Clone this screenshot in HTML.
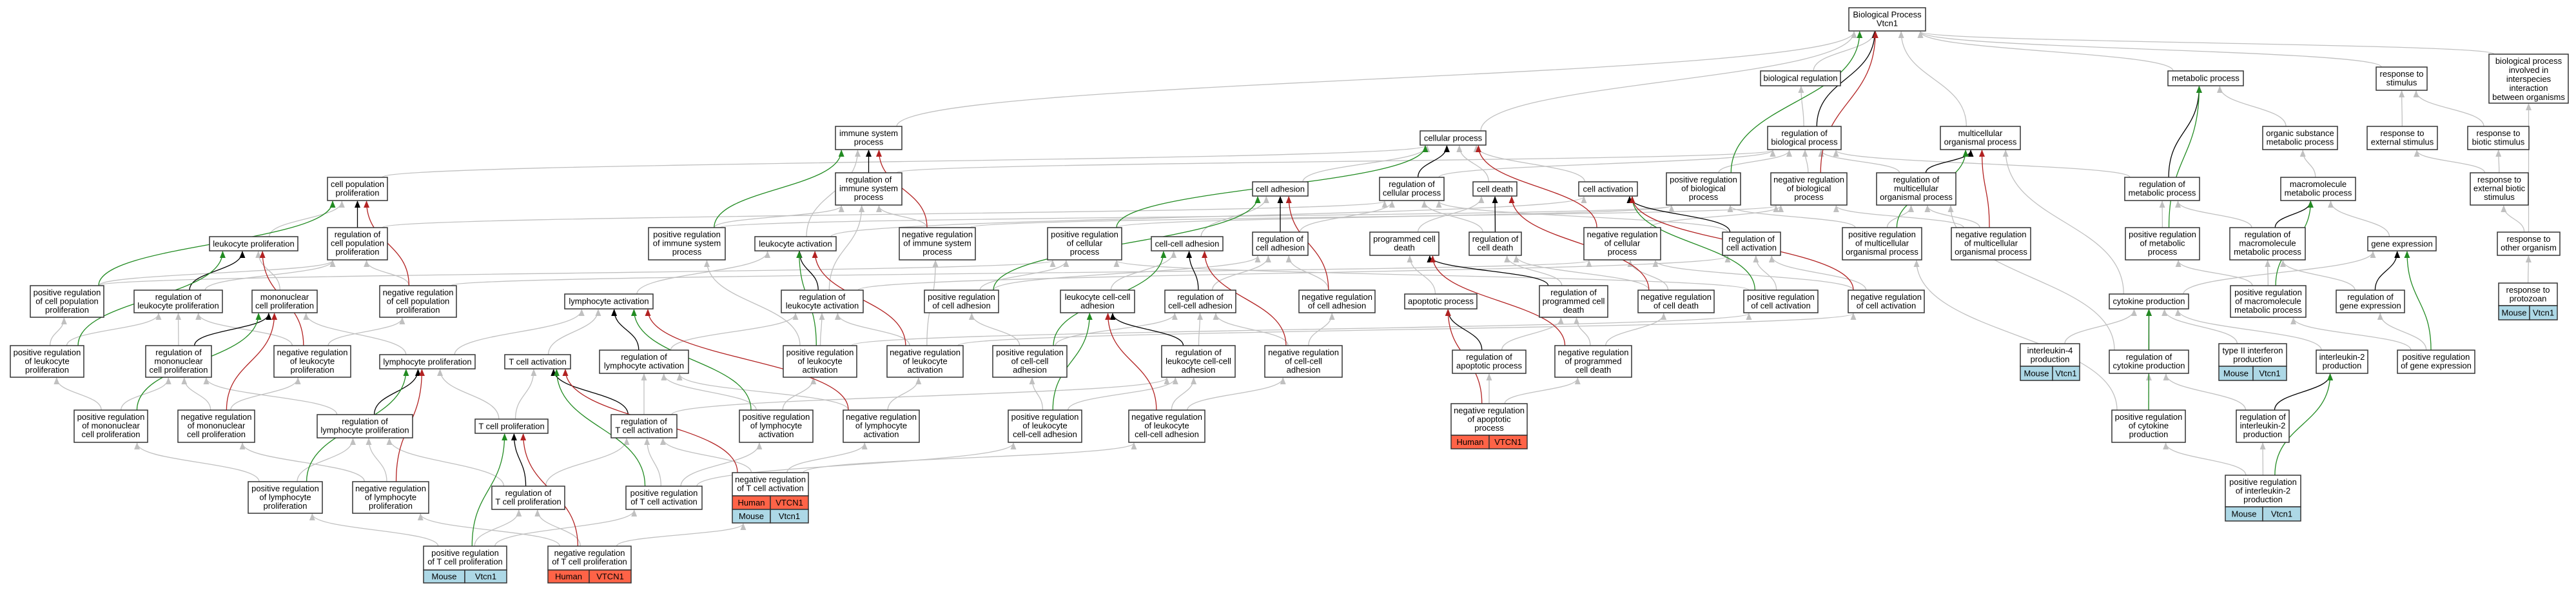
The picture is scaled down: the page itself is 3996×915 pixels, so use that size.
<!DOCTYPE html>
<html><head><meta charset="utf-8"><style>
html,body{margin:0;padding:0;background:#fff;}
svg{display:block;}
text{font-family:"Liberation Sans",Arial,sans-serif;font-size:13px;fill:#000;text-anchor:middle;}
rect{fill:#fff;stroke:#333;stroke-width:1.5;}
rect.m{fill:#add8e6;}
rect.h{fill:#ff6347;}
path.e{fill:none;stroke-width:1.3;}
</style></head><body>
<svg id="s" width="3996" height="915" viewBox="0 0 3996 915" xmlns="http://www.w3.org/2000/svg">
<defs>
<marker id="agray" markerWidth="11" markerHeight="9" refX="10" refY="4.5" orient="auto" markerUnits="userSpaceOnUse"><path d="M0,0 L11,4.5 L0,9 z" fill="#c0c0c0"/></marker>
<marker id="ablack" markerWidth="11" markerHeight="9" refX="10" refY="4.5" orient="auto" markerUnits="userSpaceOnUse"><path d="M0,0 L11,4.5 L0,9 z" fill="#000"/></marker>
<marker id="agreen" markerWidth="11" markerHeight="9" refX="10" refY="4.5" orient="auto" markerUnits="userSpaceOnUse"><path d="M0,0 L11,4.5 L0,9 z" fill="#228b22"/></marker>
<marker id="ared" markerWidth="11" markerHeight="9" refX="10" refY="4.5" orient="auto" markerUnits="userSpaceOnUse"><path d="M0,0 L11,4.5 L0,9 z" fill="#b22222"/></marker>
</defs>
<g id="edges"></g>
<g id="nodes">
<g id="cpp"><rect x="508" y="275" width="93" height="36"/><text x="554.5" y="290"><tspan x="554.5">cell population</tspan><tspan x="554.5" dy="13.5">proliferation</tspan></text></g>
<g id="leukProl"><rect x="325" y="367" width="137" height="22"/><text x="393.5" y="382.5">leukocyte proliferation</text></g>
<g id="regCPP"><rect x="508" y="353" width="93" height="50"/><text x="554.5" y="368"><tspan x="554.5">regulation of</tspan><tspan x="554.5" dy="13.5">cell population</tspan><tspan x="554.5" dy="13.5">proliferation</tspan></text></g>
<g id="posCPP"><rect x="47" y="443" width="114" height="49"/><text x="104" y="458"><tspan x="104">positive regulation</tspan><tspan x="104" dy="13.5">of cell population</tspan><tspan x="104" dy="13.5">proliferation</tspan></text></g>
<g id="regLeukProl"><rect x="208" y="450" width="137" height="35"/><text x="276.5" y="465"><tspan x="276.5">regulation of</tspan><tspan x="276.5" dy="13.5">leukocyte proliferation</tspan></text></g>
<g id="monoProl"><rect x="391" y="450" width="101" height="35"/><text x="441.5" y="465"><tspan x="441.5">mononuclear</tspan><tspan x="441.5" dy="13.5">cell proliferation</tspan></text></g>
<g id="negCPP"><rect x="589" y="443" width="119" height="49"/><text x="648.5" y="458"><tspan x="648.5">negative regulation</tspan><tspan x="648.5" dy="13.5">of cell population</tspan><tspan x="648.5" dy="13.5">proliferation</tspan></text></g>
<g id="posLeukProl"><rect x="16" y="536" width="114" height="49"/><text x="73" y="551"><tspan x="73">positive regulation</tspan><tspan x="73" dy="13.5">of leukocyte</tspan><tspan x="73" dy="13.5">proliferation</tspan></text></g>
<g id="regMono"><rect x="226" y="536" width="102" height="49"/><text x="277" y="551"><tspan x="277">regulation of</tspan><tspan x="277" dy="13.5">mononuclear</tspan><tspan x="277" dy="13.5">cell proliferation</tspan></text></g>
<g id="negLeukProl"><rect x="425" y="536" width="119" height="49"/><text x="484.5" y="551"><tspan x="484.5">negative regulation</tspan><tspan x="484.5" dy="13.5">of leukocyte</tspan><tspan x="484.5" dy="13.5">proliferation</tspan></text></g>
<g id="lymphProl"><rect x="589" y="550" width="148" height="22"/><text x="663" y="565.5">lymphocyte proliferation</text></g>
<g id="tAct"><rect x="783" y="550" width="102" height="22"/><text x="834" y="565.5">T cell activation</text></g>
<g id="lymphAct"><rect x="876" y="456" width="137" height="23"/><text x="944.5" y="471.5">lymphocyte activation</text></g>
<g id="posMono"><rect x="115" y="636" width="114" height="50"/><text x="172" y="651"><tspan x="172">positive regulation</tspan><tspan x="172" dy="13.5">of mononuclear</tspan><tspan x="172" dy="13.5">cell proliferation</tspan></text></g>
<g id="negMono"><rect x="276" y="636" width="119" height="50"/><text x="335.5" y="651"><tspan x="335.5">negative regulation</tspan><tspan x="335.5" dy="13.5">of mononuclear</tspan><tspan x="335.5" dy="13.5">cell proliferation</tspan></text></g>
<g id="regLymphProl"><rect x="492" y="643" width="148" height="36"/><text x="566" y="658"><tspan x="566">regulation of</tspan><tspan x="566" dy="13.5">lymphocyte proliferation</tspan></text></g>
<g id="tProl"><rect x="737" y="650" width="113" height="22"/><text x="793.5" y="665.5">T cell proliferation</text></g>
<g id="regLymphAct"><rect x="930" y="543" width="138" height="36"/><text x="999" y="558"><tspan x="999">regulation of</tspan><tspan x="999" dy="13.5">lymphocyte activation</tspan></text></g>
<g id="regTact"><rect x="948" y="643" width="102" height="36"/><text x="999" y="658"><tspan x="999">regulation of</tspan><tspan x="999" dy="13.5">T cell activation</tspan></text></g>
<g id="posLymphProl"><rect x="385" y="747" width="115" height="49"/><text x="442.5" y="762"><tspan x="442.5">positive regulation</tspan><tspan x="442.5" dy="13.5">of lymphocyte</tspan><tspan x="442.5" dy="13.5">proliferation</tspan></text></g>
<g id="negLymphProl"><rect x="547" y="747" width="118" height="49"/><text x="606" y="762"><tspan x="606">negative regulation</tspan><tspan x="606" dy="13.5">of lymphocyte</tspan><tspan x="606" dy="13.5">proliferation</tspan></text></g>
<g id="regTprol"><rect x="763" y="754" width="113" height="36"/><text x="819.5" y="769"><tspan x="819.5">regulation of</tspan><tspan x="819.5" dy="13.5">T cell proliferation</tspan></text></g>
<g id="posTact"><rect x="971" y="754" width="118" height="36"/><text x="1030" y="769"><tspan x="1030">positive regulation</tspan><tspan x="1030" dy="13.5">of T cell activation</tspan></text></g>
<g id="posTprol"><rect x="657" y="847" width="129" height="37"/><text x="721.5" y="862"><tspan x="721.5">positive regulation</tspan><tspan x="721.5" dy="13.5">of T cell proliferation</tspan></text>
<rect class="m" x="657" y="884" width="64" height="20"/><rect class="m" x="721" y="884" width="65" height="20"/><text x="689" y="898.5">Mouse</text><text x="753.5" y="898.5">Vtcn1</text></g>
<g id="negTprol"><rect x="850" y="847" width="129" height="37"/><text x="914.5" y="862"><tspan x="914.5">negative regulation</tspan><tspan x="914.5" dy="13.5">of T cell proliferation</tspan></text>
<rect class="h" x="850" y="884" width="64" height="20"/><rect class="h" x="914" y="884" width="65" height="20"/><text x="882" y="898.5">Human</text><text x="946.5" y="898.5">VTCN1</text></g>
<g id="isp"><rect x="1296" y="196" width="103" height="36"/><text x="1347.5" y="211"><tspan x="1347.5">immune system</tspan><tspan x="1347.5" dy="13.5">process</tspan></text></g>
<g id="regIsp"><rect x="1296" y="268" width="103" height="50"/><text x="1347.5" y="283"><tspan x="1347.5">regulation of</tspan><tspan x="1347.5" dy="13.5">immune system</tspan><tspan x="1347.5" dy="13.5">process</tspan></text></g>
<g id="posIsp"><rect x="1006" y="353" width="119" height="50"/><text x="1065.5" y="368"><tspan x="1065.5">positive regulation</tspan><tspan x="1065.5" dy="13.5">of immune system</tspan><tspan x="1065.5" dy="13.5">process</tspan></text></g>
<g id="leukAct"><rect x="1171" y="367" width="126" height="22"/><text x="1234" y="382.5">leukocyte activation</text></g>
<g id="negIsp"><rect x="1395" y="353" width="118" height="50"/><text x="1454" y="368"><tspan x="1454">negative regulation</tspan><tspan x="1454" dy="13.5">of immune system</tspan><tspan x="1454" dy="13.5">process</tspan></text></g>
<g id="posCellProc"><rect x="1625" y="353" width="115" height="50"/><text x="1682.5" y="368"><tspan x="1682.5">positive regulation</tspan><tspan x="1682.5" dy="13.5">of cellular</tspan><tspan x="1682.5" dy="13.5">process</tspan></text></g>
<g id="cellAdh"><rect x="1943" y="282" width="86" height="22"/><text x="1986" y="297.5">cell adhesion</text></g>
<g id="ccAdh"><rect x="1786" y="367" width="111" height="22"/><text x="1841.5" y="382.5">cell-cell adhesion</text></g>
<g id="regCellAdh"><rect x="1943" y="360" width="86" height="36"/><text x="1986" y="375"><tspan x="1986">regulation of</tspan><tspan x="1986" dy="13.5">cell adhesion</tspan></text></g>
<g id="regLeukAct"><rect x="1212" y="450" width="127" height="35"/><text x="1275.5" y="465"><tspan x="1275.5">regulation of</tspan><tspan x="1275.5" dy="13.5">leukocyte activation</tspan></text></g>
<g id="posCellAdh"><rect x="1434" y="450" width="115" height="35"/><text x="1491.5" y="465"><tspan x="1491.5">positive regulation</tspan><tspan x="1491.5" dy="13.5">of cell adhesion</tspan></text></g>
<g id="leukCC"><rect x="1645" y="450" width="115" height="35"/><text x="1702.5" y="465"><tspan x="1702.5">leukocyte cell-cell</tspan><tspan x="1702.5" dy="13.5">adhesion</tspan></text></g>
<g id="regCC"><rect x="1807" y="450" width="110" height="35"/><text x="1862" y="465"><tspan x="1862">regulation of</tspan><tspan x="1862" dy="13.5">cell-cell adhesion</tspan></text></g>
<g id="posLeukAct"><rect x="1215" y="536" width="114" height="49"/><text x="1272" y="551"><tspan x="1272">positive regulation</tspan><tspan x="1272" dy="13.5">of leukocyte</tspan><tspan x="1272" dy="13.5">activation</tspan></text></g>
<g id="negLeukAct"><rect x="1376" y="536" width="118" height="49"/><text x="1435" y="551"><tspan x="1435">negative regulation</tspan><tspan x="1435" dy="13.5">of leukocyte</tspan><tspan x="1435" dy="13.5">activation</tspan></text></g>
<g id="posCC"><rect x="1540" y="536" width="115" height="49"/><text x="1597.5" y="551"><tspan x="1597.5">positive regulation</tspan><tspan x="1597.5" dy="13.5">of cell-cell</tspan><tspan x="1597.5" dy="13.5">adhesion</tspan></text></g>
<g id="regLeukCC"><rect x="1802" y="536" width="114" height="49"/><text x="1859" y="551"><tspan x="1859">regulation of</tspan><tspan x="1859" dy="13.5">leukocyte cell-cell</tspan><tspan x="1859" dy="13.5">adhesion</tspan></text></g>
<g id="negCC"><rect x="1962" y="536" width="120" height="49"/><text x="2022" y="551"><tspan x="2022">negative regulation</tspan><tspan x="2022" dy="13.5">of cell-cell</tspan><tspan x="2022" dy="13.5">adhesion</tspan></text></g>
<g id="posLymphAct"><rect x="1147" y="636" width="114" height="50"/><text x="1204" y="651"><tspan x="1204">positive regulation</tspan><tspan x="1204" dy="13.5">of lymphocyte</tspan><tspan x="1204" dy="13.5">activation</tspan></text></g>
<g id="negLymphAct"><rect x="1308" y="636" width="118" height="50"/><text x="1367" y="651"><tspan x="1367">negative regulation</tspan><tspan x="1367" dy="13.5">of lymphocyte</tspan><tspan x="1367" dy="13.5">activation</tspan></text></g>
<g id="posLeukCC"><rect x="1564" y="636" width="114" height="50"/><text x="1621" y="651"><tspan x="1621">positive regulation</tspan><tspan x="1621" dy="13.5">of leukocyte</tspan><tspan x="1621" dy="13.5">cell-cell adhesion</tspan></text></g>
<g id="negLeukCC"><rect x="1751" y="636" width="118" height="50"/><text x="1810" y="651"><tspan x="1810">negative regulation</tspan><tspan x="1810" dy="13.5">of leukocyte</tspan><tspan x="1810" dy="13.5">cell-cell adhesion</tspan></text></g>
<g id="negTact"><rect x="1136" y="733" width="118" height="36"/><text x="1195" y="748"><tspan x="1195">negative regulation</tspan><tspan x="1195" dy="13.5">of T cell activation</tspan></text>
<rect class="h" x="1136" y="769" width="59" height="21"/><rect class="h" x="1195" y="769" width="59" height="21"/><text x="1165.5" y="784">Human</text><text x="1224.5" y="784">VTCN1</text>
<rect class="m" x="1136" y="790" width="59" height="21"/><rect class="m" x="1195" y="790" width="59" height="21"/><text x="1165.5" y="805">Mouse</text><text x="1224.5" y="805">Vtcn1</text></g>
<g id="bp"><rect x="2868" y="12" width="119" height="36"/><text x="2927.5" y="27"><tspan x="2927.5">Biological Process</tspan><tspan x="2927.5" dy="13.5">Vtcn1</tspan></text></g>
<g id="bioReg"><rect x="2731" y="110" width="124" height="23"/><text x="2793" y="125.5">biological regulation</text></g>
<g id="cellProc"><rect x="2203" y="203" width="102" height="22"/><text x="2254" y="218.5">cellular process</text></g>
<g id="regBio"><rect x="2742" y="196" width="114" height="36"/><text x="2799" y="211"><tspan x="2799">regulation of</tspan><tspan x="2799" dy="13.5">biological process</tspan></text></g>
<g id="regCellProc"><rect x="2140" y="275" width="100" height="36"/><text x="2190" y="290"><tspan x="2190">regulation of</tspan><tspan x="2190" dy="13.5">cellular process</tspan></text></g>
<g id="cellDeath"><rect x="2285" y="282" width="68" height="22"/><text x="2319" y="297.5">cell death</text></g>
<g id="cellAct"><rect x="2449" y="282" width="91" height="22"/><text x="2494.5" y="297.5">cell activation</text></g>
<g id="posBio"><rect x="2585" y="268" width="115" height="50"/><text x="2642.5" y="283"><tspan x="2642.5">positive regulation</tspan><tspan x="2642.5" dy="13.5">of biological</tspan><tspan x="2642.5" dy="13.5">process</tspan></text></g>
<g id="negBio"><rect x="2747" y="268" width="118" height="50"/><text x="2806" y="283"><tspan x="2806">negative regulation</tspan><tspan x="2806" dy="13.5">of biological</tspan><tspan x="2806" dy="13.5">process</tspan></text></g>
<g id="regMulti"><rect x="2911" y="268" width="123" height="50"/><text x="2972.5" y="283"><tspan x="2972.5">regulation of</tspan><tspan x="2972.5" dy="13.5">multicellular</tspan><tspan x="2972.5" dy="13.5">organismal process</tspan></text></g>
<g id="pcd"><rect x="2125" y="360" width="107" height="36"/><text x="2178.5" y="375"><tspan x="2178.5">programmed cell</tspan><tspan x="2178.5" dy="13.5">death</tspan></text></g>
<g id="regCellDeath"><rect x="2279" y="360" width="81" height="36"/><text x="2319.5" y="375"><tspan x="2319.5">regulation of</tspan><tspan x="2319.5" dy="13.5">cell death</tspan></text></g>
<g id="negCellProc"><rect x="2457" y="353" width="119" height="50"/><text x="2516.5" y="368"><tspan x="2516.5">negative regulation</tspan><tspan x="2516.5" dy="13.5">of cellular</tspan><tspan x="2516.5" dy="13.5">process</tspan></text></g>
<g id="regCellAct"><rect x="2672" y="360" width="90" height="36"/><text x="2717" y="375"><tspan x="2717">regulation of</tspan><tspan x="2717" dy="13.5">cell activation</tspan></text></g>
<g id="posMulti"><rect x="2858" y="353" width="123" height="50"/><text x="2919.5" y="368"><tspan x="2919.5">positive regulation</tspan><tspan x="2919.5" dy="13.5">of multicellular</tspan><tspan x="2919.5" dy="13.5">organismal process</tspan></text></g>
<g id="negCellAdh"><rect x="2015" y="450" width="118" height="35"/><text x="2074" y="465"><tspan x="2074">negative regulation</tspan><tspan x="2074" dy="13.5">of cell adhesion</tspan></text></g>
<g id="apop"><rect x="2179" y="456" width="112" height="23"/><text x="2235" y="471.5">apoptotic process</text></g>
<g id="regPcd"><rect x="2388" y="443" width="106" height="49"/><text x="2441" y="458"><tspan x="2441">regulation of</tspan><tspan x="2441" dy="13.5">programmed cell</tspan><tspan x="2441" dy="13.5">death</tspan></text></g>
<g id="negCellDeath"><rect x="2541" y="450" width="118" height="35"/><text x="2600" y="465"><tspan x="2600">negative regulation</tspan><tspan x="2600" dy="13.5">of cell death</tspan></text></g>
<g id="posCellAct"><rect x="2705" y="450" width="115" height="35"/><text x="2762.5" y="465"><tspan x="2762.5">positive regulation</tspan><tspan x="2762.5" dy="13.5">of cell activation</tspan></text></g>
<g id="negCellAct"><rect x="2867" y="450" width="118" height="35"/><text x="2926" y="465"><tspan x="2926">negative regulation</tspan><tspan x="2926" dy="13.5">of cell activation</tspan></text></g>
<g id="regApop"><rect x="2253" y="543" width="114" height="36"/><text x="2310" y="558"><tspan x="2310">regulation of</tspan><tspan x="2310" dy="13.5">apoptotic process</tspan></text></g>
<g id="negPcd"><rect x="2412" y="536" width="119" height="49"/><text x="2471.5" y="551"><tspan x="2471.5">negative regulation</tspan><tspan x="2471.5" dy="13.5">of programmed</tspan><tspan x="2471.5" dy="13.5">cell death</tspan></text></g>
<g id="negApop"><rect x="2251" y="626" width="118" height="49"/><text x="2310" y="641"><tspan x="2310">negative regulation</tspan><tspan x="2310" dy="13.5">of apoptotic</tspan><tspan x="2310" dy="13.5">process</tspan></text>
<rect class="h" x="2251" y="675" width="59" height="21"/><rect class="h" x="2310" y="675" width="59" height="21"/><text x="2280.5" y="690">Human</text><text x="2339.5" y="690">VTCN1</text></g>
<g id="metab"><rect x="3363" y="110" width="117" height="23"/><text x="3421.5" y="125.5">metabolic process</text></g>
<g id="stim"><rect x="3686" y="104" width="79" height="36"/><text x="3725.5" y="119"><tspan x="3725.5">response to</tspan><tspan x="3725.5" dy="13.5">stimulus</tspan></text></g>
<g id="inter"><rect x="3861" y="84" width="123" height="76"/><text x="3922.5" y="99"><tspan x="3922.5">biological process</tspan><tspan x="3922.5" dy="14">involved in</tspan><tspan x="3922.5" dy="14">interspecies</tspan><tspan x="3922.5" dy="14">interaction</tspan><tspan x="3922.5" dy="14">between organisms</tspan></text></g>
<g id="multi"><rect x="3010" y="196" width="124" height="36"/><text x="3072" y="211"><tspan x="3072">multicellular</tspan><tspan x="3072" dy="13.5">organismal process</tspan></text></g>
<g id="orgSub"><rect x="3510" y="196" width="116" height="36"/><text x="3568" y="211"><tspan x="3568">organic substance</tspan><tspan x="3568" dy="13.5">metabolic process</tspan></text></g>
<g id="extStim"><rect x="3672" y="196" width="109" height="36"/><text x="3726.5" y="211"><tspan x="3726.5">response to</tspan><tspan x="3726.5" dy="13.5">external stimulus</tspan></text></g>
<g id="bioStim"><rect x="3828" y="196" width="95" height="36"/><text x="3875.5" y="211"><tspan x="3875.5">response to</tspan><tspan x="3875.5" dy="13.5">biotic stimulus</tspan></text></g>
<g id="regMetab"><rect x="3296" y="275" width="116" height="36"/><text x="3354" y="290"><tspan x="3354">regulation of</tspan><tspan x="3354" dy="13.5">metabolic process</tspan></text></g>
<g id="macro"><rect x="3538" y="275" width="116" height="36"/><text x="3596" y="290"><tspan x="3596">macromolecule</tspan><tspan x="3596" dy="13.5">metabolic process</tspan></text></g>
<g id="extBio"><rect x="3832" y="268" width="90" height="50"/><text x="3877" y="283"><tspan x="3877">response to</tspan><tspan x="3877" dy="13.5">external biotic</tspan><tspan x="3877" dy="13.5">stimulus</tspan></text></g>
<g id="negMulti"><rect x="3027" y="353" width="123" height="50"/><text x="3088.5" y="368"><tspan x="3088.5">negative regulation</tspan><tspan x="3088.5" dy="13.5">of multicellular</tspan><tspan x="3088.5" dy="13.5">organismal process</tspan></text></g>
<g id="posMetab"><rect x="3297" y="353" width="115" height="50"/><text x="3354.5" y="368"><tspan x="3354.5">positive regulation</tspan><tspan x="3354.5" dy="13.5">of metabolic</tspan><tspan x="3354.5" dy="13.5">process</tspan></text></g>
<g id="regMacro"><rect x="3459" y="353" width="117" height="50"/><text x="3517.5" y="368"><tspan x="3517.5">regulation of</tspan><tspan x="3517.5" dy="13.5">macromolecule</tspan><tspan x="3517.5" dy="13.5">metabolic process</tspan></text></g>
<g id="gene"><rect x="3673" y="367" width="106" height="22"/><text x="3726" y="382.5">gene expression</text></g>
<g id="otherOrg"><rect x="3874" y="360" width="97" height="36"/><text x="3922.5" y="375"><tspan x="3922.5">response to</tspan><tspan x="3922.5" dy="13.5">other organism</tspan></text></g>
<g id="cyto"><rect x="3272" y="456" width="123" height="23"/><text x="3333.5" y="471.5">cytokine production</text></g>
<g id="posMacro"><rect x="3460" y="443" width="117" height="49"/><text x="3518.5" y="458"><tspan x="3518.5">positive regulation</tspan><tspan x="3518.5" dy="13.5">of macromolecule</tspan><tspan x="3518.5" dy="13.5">metabolic process</tspan></text></g>
<g id="regGene"><rect x="3624" y="450" width="106" height="35"/><text x="3677" y="465"><tspan x="3677">regulation of</tspan><tspan x="3677" dy="13.5">gene expression</tspan></text></g>
<g id="protozoan"><rect x="3876" y="439" width="91" height="35"/><text x="3921.5" y="454"><tspan x="3921.5">response to</tspan><tspan x="3921.5" dy="13.5">protozoan</tspan></text>
<rect class="m" x="3876" y="474" width="48" height="22"/><rect class="m" x="3924" y="474" width="43" height="22"/><text x="3900" y="489.5">Mouse</text><text x="3945.5" y="489.5">Vtcn1</text></g>
<g id="il4"><rect x="3134" y="533" width="92" height="35"/><text x="3180" y="548"><tspan x="3180">interleukin-4</tspan><tspan x="3180" dy="13.5">production</tspan></text>
<rect class="m" x="3134" y="568" width="50" height="22"/><rect class="m" x="3184" y="568" width="42" height="22"/><text x="3159" y="583.5">Mouse</text><text x="3205" y="583.5">Vtcn1</text></g>
<g id="regCyto"><rect x="3272" y="543" width="123" height="36"/><text x="3333.5" y="558"><tspan x="3333.5">regulation of</tspan><tspan x="3333.5" dy="13.5">cytokine production</tspan></text></g>
<g id="typeII"><rect x="3442" y="533" width="105" height="35"/><text x="3494.5" y="548"><tspan x="3494.5">type II interferon</tspan><tspan x="3494.5" dy="13.5">production</tspan></text>
<rect class="m" x="3442" y="568" width="53" height="22"/><rect class="m" x="3495" y="568" width="52" height="22"/><text x="3468.5" y="583.5">Mouse</text><text x="3521" y="583.5">Vtcn1</text></g>
<g id="il2"><rect x="3593" y="543" width="80" height="36"/><text x="3633" y="558"><tspan x="3633">interleukin-2</tspan><tspan x="3633" dy="13.5">production</tspan></text></g>
<g id="posGene"><rect x="3719" y="543" width="120" height="36"/><text x="3779" y="558"><tspan x="3779">positive regulation</tspan><tspan x="3779" dy="13.5">of gene expression</tspan></text></g>
<g id="posCyto"><rect x="3276" y="636" width="114" height="50"/><text x="3333" y="651"><tspan x="3333">positive regulation</tspan><tspan x="3333" dy="13.5">of cytokine</tspan><tspan x="3333" dy="13.5">production</tspan></text></g>
<g id="regIl2"><rect x="3469" y="636" width="82" height="50"/><text x="3510" y="651"><tspan x="3510">regulation of</tspan><tspan x="3510" dy="13.5">interleukin-2</tspan><tspan x="3510" dy="13.5">production</tspan></text></g>
<g id="posIl2"><rect x="3452" y="737" width="117" height="49"/><text x="3510.5" y="752"><tspan x="3510.5">positive regulation</tspan><tspan x="3510.5" dy="13.5">of interleukin-2</tspan><tspan x="3510.5" dy="13.5">production</tspan></text>
<rect class="m" x="3452" y="786" width="58" height="22"/><rect class="m" x="3510" y="786" width="59" height="22"/><text x="3481" y="801.5">Mouse</text><text x="3539.5" y="801.5">Vtcn1</text></g>
</g>
</svg>
<script>
var K='#000',G='#228b22',R='#b22222',Y='#c0c0c0';
var E=[
['regCPP','cpp',K],['regLeukProl','leukProl',K],['regMono','monoProl',K],['regLymphProl','lymphProl',K],['regTprol','tProl',K],['regLymphAct','lymphAct',K],['regTact','tAct',K],['regIsp','isp',K],['regLeukAct','leukAct',K],['regCellAdh','cellAdh',K],['regCC','ccAdh',K],['regLeukCC','leukCC',K],['regCellProc','cellProc',K],['regCellDeath','cellDeath',K],['regPcd','pcd',K],['regApop','apop',K],['regCellAct','cellAct',K],['regBio','bp',K],['regMulti','multi',K],['regMetab','metab',K],['regMacro','macro',K],['regGene','gene',K],['regCyto','cyto',K],['regIl2','il2',K],
['posCPP','cpp',G],['posLeukProl','leukProl',G],['posMono','monoProl',G],['posLymphProl','lymphProl',G],['posTprol','tProl',G],['posLymphAct','lymphAct',G],['posTact','tAct',G],['posIsp','isp',G],['posLeukAct','leukAct',G],['posCellProc','cellProc',G],['posCellAdh','cellAdh',G],['posCC','ccAdh',G],['posLeukCC','leukCC',G],['posCellAct','cellAct',G],['posBio','bp',G],['posMulti','multi',G],['posMetab','metab',G],['posMacro','macro',G],['posGene','gene',G],['posCyto','cyto',G],['posIl2','il2',G],
['negCPP','cpp',R],['negLeukProl','leukProl',R],['negMono','monoProl',R],['negLymphProl','lymphProl',R],['negTprol','tProl',R],['negLymphAct','lymphAct',R],['negTact','tAct',R],['negIsp','isp',R],['negLeukAct','leukAct',R],['negCellProc','cellProc',R],['negCellAdh','cellAdh',R],['negCC','ccAdh',R],['negLeukCC','leukCC',R],['negCellDeath','cellDeath',R],['negPcd','pcd',R],['negApop','apop',R],['negCellAct','cellAct',R],['negBio','bp',R],['negMulti','multi',R]
];
var Gr=[['leukProl','cpp'],['monoProl','leukProl'],['lymphProl','monoProl'],['tProl','lymphProl'],['tProl','tAct'],['posCPP','regCPP'],['negCPP','regCPP'],['posLeukProl','posCPP'],['posLeukProl','regLeukProl'],['regLeukProl','regCPP'],['negLeukProl','regLeukProl'],['negLeukProl','negCPP'],['regMono','regLeukProl'],['posMono','posLeukProl'],['posMono','regMono'],['negMono','regMono'],['negMono','negLeukProl'],['regLymphProl','regMono'],['posLymphProl','regLymphProl'],['posLymphProl','posMono'],['negLymphProl','regLymphProl'],['negLymphProl','negMono'],['regTprol','regLymphProl'],['regTprol','regTact'],['posTprol','posLymphProl'],['posTprol','regTprol'],['posTprol','posTact'],['negTprol','negLymphProl'],['negTprol','regTprol'],['negTprol','negTact'],['lymphProl','lymphAct'],['tAct','lymphAct'],['lymphAct','leukAct'],['leukAct','cellAct'],['leukAct','isp'],['cpp','cellProc'],['isp','bp'],['cellProc','bp'],['bioReg','bp'],['regBio','bioReg'],['posBio','regBio'],['negBio','regBio'],['regMulti','regBio'],['posMulti','regMulti'],['negMulti','regMulti'],['multi','bp'],['metab','bp'],['stim','bp'],['inter','bp'],['regMetab','regBio'],['orgSub','metab'],['macro','orgSub'],['gene','macro'],['regMacro','regMetab'],['posMetab','regMetab'],['posMacro','regMacro'],['posMacro','posMetab'],['regGene','regMacro'],['posGene','regGene'],['posGene','posMacro'],['cyto','gene'],['cyto','multi'],['regCyto','regMulti'],['posCyto','regCyto'],['posCyto','posMulti'],['il4','cyto'],['typeII','cyto'],['il2','cyto'],['regIl2','regCyto'],['posIl2','regIl2'],['posIl2','posCyto'],['extStim','stim'],['bioStim','stim'],['extBio','extStim'],['extBio','bioStim'],['otherOrg','extBio'],['otherOrg','inter'],['protozoan','otherOrg'],['cellAdh','cellProc'],['ccAdh','cellAdh'],['leukCC','ccAdh'],['regCellAdh','regCellProc'],['posCellAdh','regCellAdh'],['posCellAdh','posCellProc'],['negCellAdh','regCellAdh'],['regCC','regCellAdh'],['posCC','regCC'],['posCC','posCellAdh'],['negCC','regCC'],['negCC','negCellAdh'],['regLeukCC','regCC'],['posLeukCC','regLeukCC'],['posLeukCC','posCC'],['negLeukCC','regLeukCC'],['negLeukCC','negCC'],['regCellProc','regBio'],['posCellProc','posBio'],['negCellProc','negBio'],['cellDeath','cellProc'],['pcd','cellDeath'],['apop','pcd'],['regCellDeath','regCellProc'],['regPcd','regCellDeath'],['negCellDeath','regCellDeath'],['negCellDeath','negCellProc'],['negPcd','regPcd'],['negPcd','negCellDeath'],['regApop','regPcd'],['negApop','regApop'],['negApop','negPcd'],['cellAct','cellProc'],['regCellAct','regCellProc'],['posCellAct','regCellAct'],['posCellAct','posCellProc'],['negCellAct','regCellAct'],['negCellAct','negCellProc'],['regIsp','regBio'],['posIsp','regIsp'],['negIsp','regIsp'],['posIsp','posBio'],['negIsp','negBio'],['regLeukAct','regIsp'],['regLeukAct','regCellAct'],['posLeukAct','regLeukAct'],['posLeukAct','posIsp'],['posLeukAct','posCellAct'],['negLeukAct','regLeukAct'],['negLeukAct','negIsp'],['negLeukAct','negCellAct'],['regLymphAct','regLeukAct'],['posLymphAct','regLymphAct'],['posLymphAct','posLeukAct'],['negLymphAct','regLymphAct'],['negLymphAct','negLeukAct'],['regTact','regLymphAct'],['posTact','regTact'],['posTact','posLymphAct'],['negTact','regTact'],['negTact','negLymphAct'],['negTact','negLeukCC'],['posTact','posLeukCC'],['regTact','regLeukCC'],['regCPP','regCellProc'],['posCPP','posCellProc'],['negCPP','negCellProc'],['posMulti','posBio'],['negMulti','negBio']];
Gr.forEach(function(a){E.unshift([a[0],a[1],Y]);});
var eg=document.getElementById('edges'),NS='http://www.w3.org/2000/svg';
function bb(id){return document.getElementById(id).getBBox();}
function cl(v,a,b){return Math.max(a,Math.min(b,v));}
E.forEach(function(e){
 var a=bb(e[0]),b=bb(e[1]);var d;
 var ax=a.x+a.width/2,bx=b.x+b.width/2;
 if(b.y+b.height<a.y-4){
  var x1=cl(ax+(bx-ax)*0.15,a.x+8,a.x+a.width-8),y1=a.y;
  var x2=cl(bx+(ax-bx)*0.15,b.x+8,b.x+b.width-8),y2=b.y+b.height+1;
  var m=(y1+y2)/2;
  d='M'+x1+','+y1+' C'+x1+','+m+' '+x2+','+m+' '+x2+','+y2;
 } else {
  var x1,x2,y1=a.y+a.height/2,y2=b.y+b.height/2;
  if(bx>ax){x1=a.x+a.width;x2=b.x-1;}else{x1=a.x;x2=b.x+b.width+1;}
  var mx=(x1+x2)/2;
  d='M'+x1+','+y1+' C'+mx+','+y1+' '+mx+','+y2+' '+x2+','+y2;
 }
 var p=document.createElementNS(NS,'path');
 p.setAttribute('d',d);p.setAttribute('class','e');p.setAttribute('stroke',e[2]);
 var mk=e[2]==K?'ablack':e[2]==G?'agreen':e[2]==R?'ared':'agray';
 p.setAttribute('marker-end','url(#'+mk+')');
 eg.appendChild(p);
});
</script>
</body></html>
